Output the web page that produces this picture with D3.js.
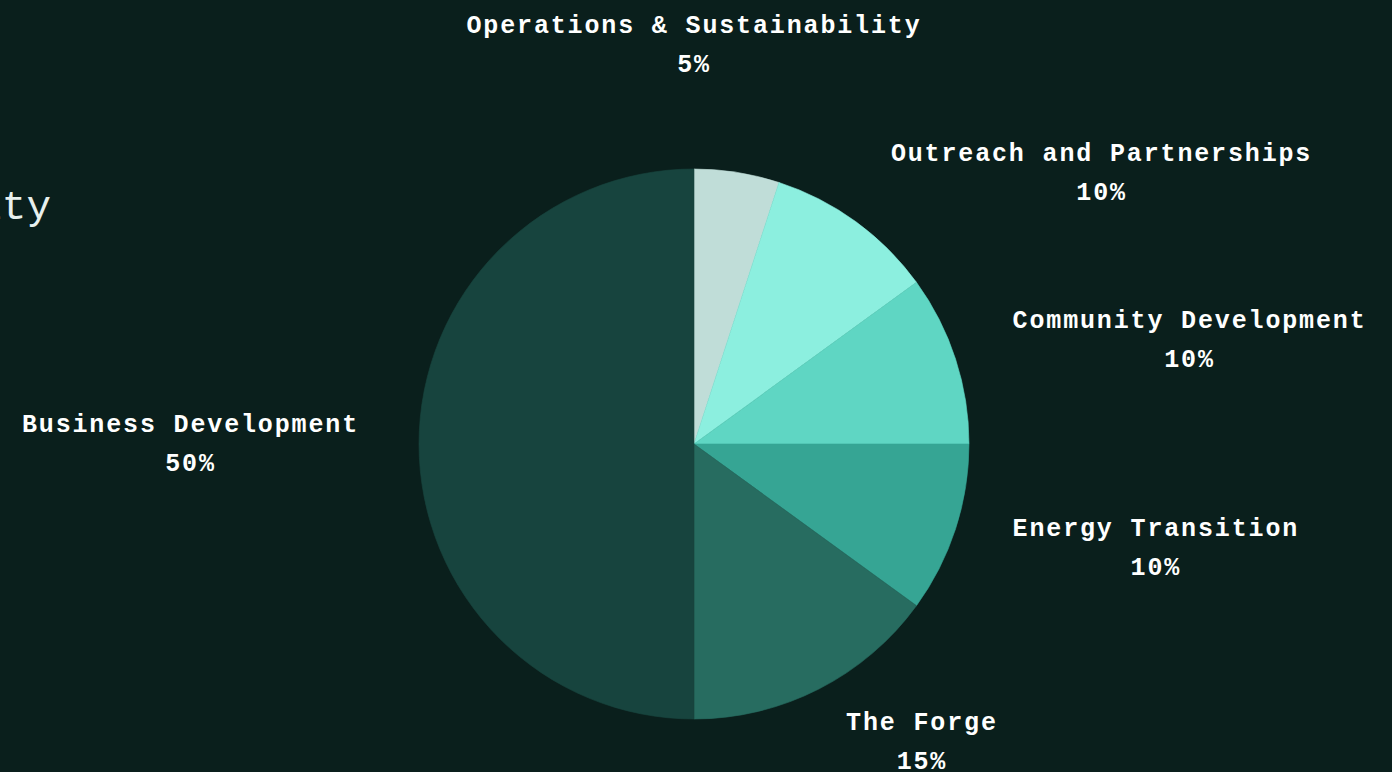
<!DOCTYPE html>
<html>
<head>
<meta charset="utf-8">
<script src="https://cdn.jsdelivr.net/npm/d3@7"></script>
<style>
  html, body { margin: 0; padding: 0; background: #0a1f1c; overflow: hidden; }
  svg { display: block; }
</style>
</head>
<body>
<div id="chart"></div>
<script>
// Data
const categories = [
  "Operations & Sustainability",
  "Outreach and Partnerships",
  "Community Development",
  "Energy Transition",
  "The Forge",
  "Business Development"
];
const shares = [5, 10, 10, 10, 15, 50];
const colors = ["#c0ddd8", "#8cefdf", "#5fd6c3", "#36a594", "#276c60", "#17443e"];
const title = "Allocation by Activity";

const width = 1392;
const height = 772;
const cx = 694;
const cy = 444;
const radius = 275;
const labelRadius = 335;
const topLabelRadius = 404;

const svg = d3
  .select("#chart")
  .append("svg")
  .attr("width", width)
  .attr("height", height);

// cut-off heading on the left
svg
  .append("text")
  .attr("x", 51)
  .attr("y", 219)
  .attr("text-anchor", "end")
  .attr("fill", "#e8f0ee")
  .style("font-family", "'Courier New', 'Liberation Mono', monospace")
  .style("font-size", "41px")
  .style("font-weight", "300")
  .text(title);

const data = categories.map((c, i) => ({ name: c, value: shares[i], color: colors[i] }));

const pie = d3.pie().sort(null).value((d) => d.value);
const arc = d3.arc().innerRadius(0).outerRadius(radius);

const g = svg.append("g").attr("transform", "translate(" + cx + "," + cy + ")");

const arcs = pie(data);

g.selectAll("path")
  .data(arcs)
  .enter()
  .append("path")
  .attr("d", arc)
  .attr("fill", (d) => d.data.color)
  .attr("stroke", (d) => d.data.color)
  .attr("stroke-width", 0.6);

// labels
const labels = g
  .selectAll("g.label")
  .data(arcs)
  .enter()
  .append("g")
  .attr("class", "label");

labels.each(function (d) {
  const grp = d3.select(this);
  const mid = (d.startAngle + d.endAngle) / 2;
  const nearTop = Math.abs(Math.sin(mid)) < 0.2 && Math.cos(mid) > 0;
  const r = nearTop ? topLabelRadius : labelRadius;
  const ax = r * Math.sin(mid);
  const ay = -r * Math.cos(mid);

  const style = (t) =>
    t
      .attr("fill", "#ffffff")
      .attr("text-anchor", "middle")
      .style("font-family", "'Courier New', 'Liberation Mono', monospace")
      .style("font-size", "25px")
      .style("font-weight", "bold")
      .style("letter-spacing", "1.85px");

  const name = grp.append("text").attr("y", ay - 12).text(d.data.name).call(style);
  const pct = grp.append("text").attr("y", ay + 27).text(d.data.value + "%").call(style);

  const w = Math.max(name.node().getComputedTextLength(), pct.node().getComputedTextLength());
  let x;
  if (nearTop) x = 0;
  else if (ax > 0) x = ax + w / 2;
  else x = ax - w / 2;
  name.attr("x", x);
  pct.attr("x", x);
});
</script>
</body>
</html>
